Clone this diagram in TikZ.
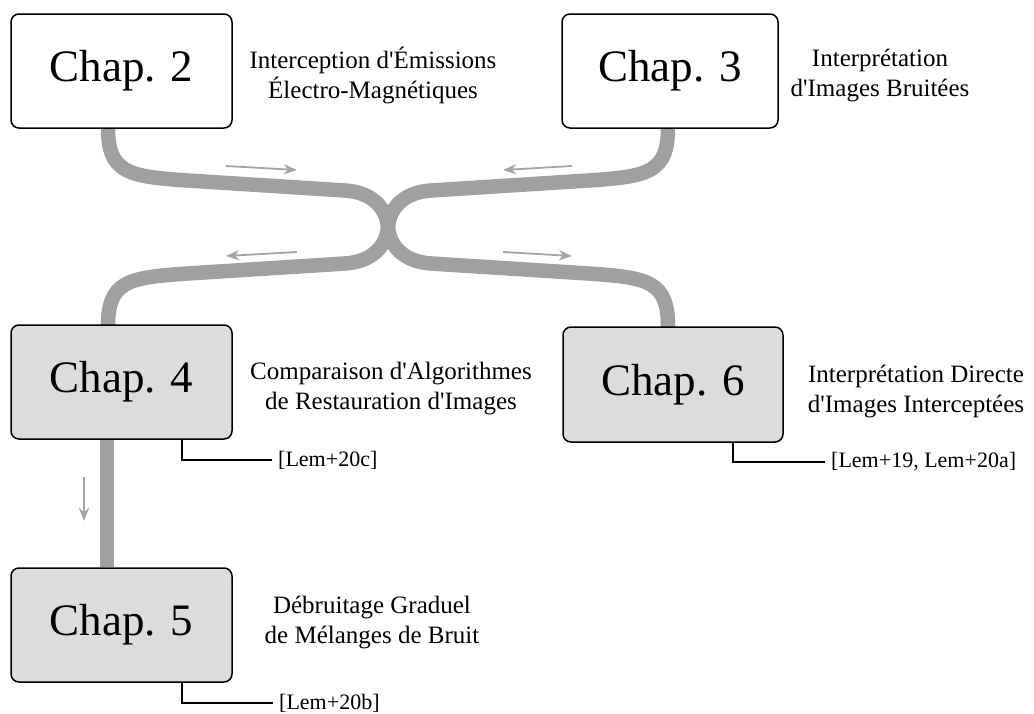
\documentclass[tikz,border=0pt]{standalone}
\usepackage{fontspec}
\setmainfont{Liberation Serif}
\usetikzlibrary{arrows.meta}
\definecolor{ribbongray}{HTML}{A0A0A0}
\definecolor{arrowgray}{HTML}{A4A4A4}
\definecolor{boxfill}{HTML}{DCDCDC}
\newcommand{\ap}{\textquotesingle}
\begin{document}
\begin{tikzpicture}[x=1pt,y=-1pt,
  chapbox/.style={draw=black, line width=1.5pt, rounded corners=8pt, fill=white,
    minimum width=221pt, minimum height=114pt, inner sep=0pt,
    font=\fontsize{45}{54}\selectfont},
  chapboxgray/.style={chapbox, fill=boxfill},
  desc/.style={align=center, inner sep=0pt, font=\fontsize{25}{30}\selectfont},
  cite/.style={anchor=west, inner xsep=6pt, inner ysep=0pt, font=\fontsize{22}{26}\selectfont},
  citeline/.style={draw=black, line width=1.2pt},
  ribbon/.style={draw=ribbongray, line width=14.5pt},
  flowarrow/.style={draw=arrowgray, line width=1.8pt, -{Stealth[length=13pt,width=10pt,inset=4pt]}}
]
\useasboundingbox (0,0) rectangle (1034,713);

% ribbon anchor points
\coordinate (r2) at (108,120);
\coordinate (r3) at (668,120);
\coordinate (r4) at (108,334);
\coordinate (r6) at (668,334);
\coordinate (mid) at (388,227);

% ribbons (drawn first, boxes cover ends)
\draw[ribbon] (r2) -- (108,128) .. controls (108,172) and (128,176) .. (180,180)
  -- (345,190.5) .. controls (376,192.5) and (387,212) .. (mid)
  .. controls (389,242) and (400,261.5) .. (431,263.5)
  -- (596,274) .. controls (648,278) and (668,282) .. (668,326) -- (r6);
\draw[ribbon] (r3) -- (668,128) .. controls (668,172) and (648,176) .. (596,180)
  -- (431,190.5) .. controls (400,192.5) and (389,212) .. (mid)
  .. controls (387,242) and (376,261.5) .. (345,263.5)
  -- (180,274) .. controls (128,278) and (108,282) .. (108,326) -- (r4);

% boxes
\node[chapbox] (c2) at (121.5,71) {Chap. 2};
\node[chapbox, minimum width=216pt] (c3) at (670,71) {Chap. 3};
\node[chapboxgray] (c4) at (121.5,382) {Chap. 4};
\node[chapboxgray] (c5) at (121.5,625) {Chap. 5};
\node[chapboxgray, minimum width=220pt, minimum height=115pt] (c6) at (673,384.5) {Chap. 6};

% vertical ribbon 4 -> 5
\draw[ribbon] ([xshift=-14.5pt]c4.south) -- ([xshift=-14.5pt]c5.north);

% flow arrows
\coordinate (a1s) at (226,166); \coordinate (a1e) at (297,170);
\coordinate (a2s) at (572,166); \coordinate (a2e) at (503,170);
\coordinate (a3s) at (297,252); \coordinate (a3e) at (226,256);
\coordinate (a4s) at (503,252); \coordinate (a4e) at (572,256);
\coordinate (a5s) at (84,477);  \coordinate (a5e) at (84,521);
\draw[flowarrow] (a1s) -- (a1e);
\draw[flowarrow] (a2s) -- (a2e);
\draw[flowarrow] (a3s) -- (a3e);
\draw[flowarrow] (a4s) -- (a4e);
\draw[flowarrow] (a5s) -- (a5e);

% descriptions
\node[desc] (d2) at (373,75) {Interception d\ap Émissions\\Électro-Magnétiques};
\node[desc] (d3) at (880,76) {Interprétation\\d\ap Images Bruitées};
\node[desc] (d4) at (391,389) {Comparaison d\ap Algorithmes\\de Restauration d\ap Images};
\node[desc] (d6) at (916,391) {Interprétation Directe\\d\ap Images Interceptées};
\node[desc] (d5) at (372,622) {Débruitage Graduel\\de Mélanges de Bruit};

% citations
\node[cite] (l4) at (272,460) {[Lem+20c]};
\node[cite] (l5) at (273,703) {[Lem+20b]};
\node[cite] (l6) at (825,462) {[Lem+19, Lem+20a]};
\draw[citeline] ([xshift=60.5pt]c4.south) |- (l4.west);
\draw[citeline] ([xshift=60.5pt]c5.south) |- (l5.west);
\draw[citeline] ([xshift=60pt]c6.south) |- (l6.west);
\end{tikzpicture}
\end{document}
